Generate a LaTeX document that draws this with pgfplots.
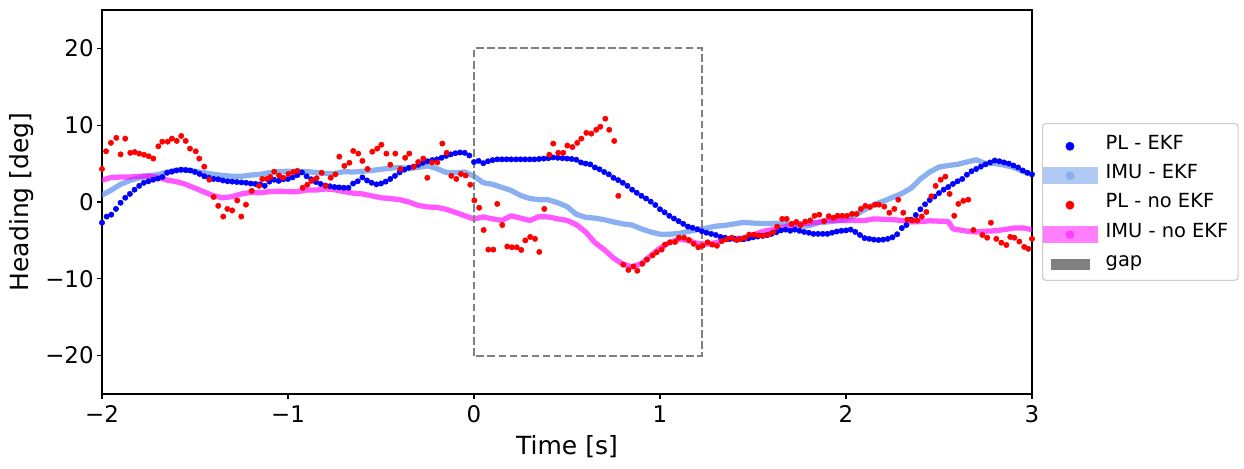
\documentclass[border=0pt]{standalone}
\usepackage{fontspec}
\setmainfont{DejaVu Sans}
\usepackage{pgfplots}
\usepackage{pgfplotstable}
\pgfplotsset{compat=1.18}
\definecolor{plblue}{RGB}{0,0,255}
\definecolor{imublue}{RGB}{100,149,237}
\definecolor{plred}{RGB}{255,0,0}
\definecolor{imumag}{RGB}{255,0,255}
\definecolor{gapgray}{RGB}{128,128,128}

\pgfplotstableread{
x y
-2.000 -2.7
-1.975 -1.9
-1.950 -1.65
-1.925 -0.9
-1.900 -0.1
-1.875 0.55
-1.850 1.05
-1.825 1.6
-1.800 2.1
-1.775 2.5
-1.750 2.7
-1.725 2.9
-1.700 3.05
-1.675 3.25
-1.650 3.8
-1.625 3.95
-1.600 4.1
-1.575 4.2
-1.550 4.15
-1.525 4.1
-1.500 3.9
-1.475 3.65
-1.450 3.35
-1.425 3.15
-1.400 3.0
-1.375 2.95
-1.350 2.8
-1.325 2.7
-1.300 2.65
-1.275 2.6
-1.250 2.55
-1.225 2.5
-1.200 2.4
-1.175 2.35
-1.150 2.3
-1.125 2.1
-1.100 2.65
-1.075 2.9
-1.050 2.75
-1.025 2.95
-1.000 3.0
-0.975 3.2
-0.950 3.5
-0.925 3.85
-0.900 3.35
-0.875 2.95
-0.850 2.6
-0.825 2.35
-0.800 2.15
-0.775 2.05
-0.750 1.95
-0.725 1.9
-0.700 1.85
-0.675 1.85
-0.650 2.4
-0.625 2.7
-0.600 3.2
-0.575 2.8
-0.550 2.5
-0.525 2.3
-0.500 2.4
-0.475 2.65
-0.450 3.0
-0.425 3.4
-0.400 3.85
-0.375 4.2
-0.350 4.45
-0.325 4.6
-0.300 4.85
-0.275 5.1
-0.250 5.3
-0.225 5.45
-0.200 5.55
-0.175 5.75
-0.150 6.0
-0.125 6.2
-0.100 6.35
-0.075 6.45
-0.050 6.4
-0.025 6.05
0.000 5.2
0.025 5.35
0.050 5.05
0.075 5.3
0.100 5.45
0.125 5.55
0.150 5.55
0.175 5.55
0.200 5.55
0.225 5.55
0.250 5.55
0.275 5.55
0.300 5.55
0.325 5.55
0.350 5.6
0.375 5.65
0.400 5.7
0.425 5.8
0.450 5.75
0.475 5.7
0.500 5.65
0.525 5.6
0.550 5.5
0.575 5.15
0.600 5.0
0.625 4.9
0.650 4.5
0.675 4.25
0.700 3.9
0.725 3.6
0.750 3.15
0.775 2.85
0.800 2.5
0.825 2.1
0.850 1.6
0.875 1.2
0.900 0.8
0.925 0.45
0.950 0.05
0.975 -0.4
1.000 -0.95
1.025 -1.35
1.050 -1.8
1.075 -2.15
1.100 -2.5
1.125 -2.85
1.150 -3.2
1.175 -3.35
1.200 -3.55
1.225 -3.8
1.250 -4.0
1.275 -4.15
1.300 -4.3
1.325 -4.55
1.350 -4.65
1.375 -4.8
1.400 -4.8
1.425 -4.85
1.450 -4.85
1.475 -4.75
1.500 -4.6
1.525 -4.5
1.550 -4.4
1.575 -4.3
1.600 -4.15
1.625 -3.95
1.650 -3.7
1.675 -3.6
1.700 -3.75
1.725 -3.6
1.750 -3.75
1.775 -3.9
1.800 -4.0
1.825 -4.15
1.850 -4.15
1.875 -4.15
1.900 -4.15
1.925 -4.0
1.950 -3.85
1.975 -3.75
2.000 -3.7
2.025 -3.6
2.050 -3.9
2.075 -4.3
2.100 -4.7
2.125 -4.8
2.150 -4.9
2.175 -4.95
2.200 -4.9
2.225 -4.8
2.250 -4.6
2.275 -4.2
2.300 -3.4
2.325 -3.0
2.350 -2.3
2.375 -1.7
2.400 -0.95
2.425 -0.3
2.450 0.25
2.475 0.7
2.500 1.15
2.525 1.6
2.550 1.95
2.575 2.35
2.600 2.7
2.625 3.0
2.650 3.55
2.675 4.0
2.700 4.3
2.725 4.6
2.750 4.9
2.775 5.15
2.800 5.4
2.825 5.3
2.850 5.15
2.875 5.0
2.900 4.75
2.925 4.5
2.950 4.1
2.975 3.8
3.000 3.6
}\plekf

\pgfplotstableread{
x y
-2.00 0.9
-1.95 1.55
-1.90 2.3
-1.85 2.8
-1.80 3.15
-1.75 3.4
-1.70 3.55
-1.65 3.9
-1.60 4.15
-1.55 4.2
-1.50 4.0
-1.45 3.8
-1.40 3.6
-1.35 3.45
-1.30 3.35
-1.25 3.35
-1.20 3.5
-1.15 3.6
-1.10 3.8
-1.05 3.95
-1.00 4.0
-0.95 3.95
-0.90 3.95
-0.85 3.85
-0.80 3.7
-0.75 3.7
-0.70 3.95
-0.65 3.9
-0.60 4.0
-0.55 4.1
-0.50 4.25
-0.45 4.4
-0.40 4.5
-0.35 4.35
-0.30 4.5
-0.25 4.7
-0.20 4.35
-0.15 3.85
-0.10 3.8
-0.05 3.9
0.00 3.35
0.05 2.5
0.10 2.3
0.15 1.9
0.20 1.5
0.25 0.85
0.30 0.45
0.35 0.3
0.40 0.28
0.45 -0.1
0.50 -0.6
0.55 -1.6
0.60 -2.0
0.65 -2.1
0.70 -2.3
0.75 -2.6
0.80 -2.85
0.85 -3.0
0.90 -3.5
0.95 -3.9
1.00 -4.2
1.05 -4.2
1.10 -4.1
1.15 -3.85
1.20 -3.6
1.25 -3.4
1.30 -3.15
1.35 -3.05
1.40 -2.85
1.45 -2.65
1.50 -2.75
1.55 -2.8
1.60 -2.8
1.65 -2.75
1.70 -2.9
1.75 -3.15
1.80 -3.1
1.85 -2.7
1.90 -2.6
1.95 -2.45
2.00 -2.3
2.05 -1.7
2.10 -1.0
2.15 -0.35
2.20 0.1
2.25 0.6
2.30 1.1
2.35 1.8
2.40 3.0
2.45 3.9
2.50 4.55
2.55 4.75
2.60 4.9
2.65 5.2
2.70 5.5
2.75 5.0
2.80 5.0
2.85 4.8
2.90 4.5
2.95 4.0
3.00 3.6
}\imuekf

\pgfplotstableread{
x y
-2.000 4.3
-1.978 6.6
-1.952 7.7
-1.923 8.35
-1.900 6.2
-1.875 8.25
-1.848 6.4
-1.824 6.5
-1.800 6.3
-1.774 6.15
-1.749 5.95
-1.724 5.65
-1.697 7.25
-1.676 7.85
-1.647 7.85
-1.624 8.25
-1.598 7.95
-1.574 8.6
-1.550 7.95
-1.527 6.95
-1.496 6.6
-1.477 5.65
-1.450 4.6
-1.423 2.9
-1.400 0.65
-1.375 -0.5
-1.348 -1.9
-1.326 -0.9
-1.300 -1.1
-1.273 0.2
-1.251 -1.9
-1.226 -0.35
-1.195 1.45
-1.156 2.1
-1.138 3.0
-1.114 3.0
-1.095 3.25
-1.074 3.95
-1.048 3.45
-1.025 3.15
-0.998 3.65
-0.972 3.9
-0.950 4.05
-0.921 1.85
-0.896 2.25
-0.873 2.75
-0.846 3.1
-0.819 3.8
-0.797 2.1
-0.770 3.15
-0.745 3.6
-0.724 5.9
-0.697 4.7
-0.670 5.1
-0.649 6.65
-0.622 6.3
-0.600 5.35
-0.572 4.3
-0.547 6.55
-0.520 6.95
-0.498 7.45
-0.471 6.3
-0.450 4.85
-0.423 6.3
-0.396 4.3
-0.370 5.75
-0.348 6.3
-0.323 4.6
-0.300 5.2
-0.273 5.65
-0.251 3.15
-0.226 5.15
-0.197 5.15
-0.170 7.6
-0.147 6.4
-0.122 3.4
-0.095 3.0
-0.070 3.65
-0.045 3.45
-0.020 2.25
0.002 0.2
0.028 -0.75
0.052 -3.65
0.077 -6.2
0.104 -6.2
0.125 -0.25
0.152 -3.0
0.179 -5.8
0.204 -5.9
0.230 -5.9
0.254 -6.25
0.276 -5.0
0.302 -4.55
0.328 -4.8
0.351 -6.5
0.378 -0.9
0.405 6.15
0.426 7.6
0.453 6.4
0.480 6.4
0.502 7.35
0.529 7.15
0.555 7.7
0.577 8.25
0.604 9.0
0.631 8.9
0.657 9.4
0.679 9.8
0.706 10.85
0.727 9.4
0.754 7.95
0.776 0.8
0.803 -8.15
0.830 -8.85
0.857 -8.4
0.878 -8.95
0.905 -8.05
0.930 -7.5
0.960 -6.95
0.982 -6.55
1.009 -6.2
1.027 -5.55
1.054 -5.25
1.081 -5.2
1.102 -4.65
1.129 -4.65
1.156 -4.95
1.181 -5.45
1.206 -5.9
1.229 -5.7
1.256 -5.25
1.281 -5.55
1.306 -5.7
1.332 -5.1
1.359 -4.85
1.386 -4.65
1.412 -4.95
1.434 -4.85
1.457 -4.65
1.480 -4.25
1.505 -4.25
1.530 -4.35
1.555 -4.4
1.582 -4.25
1.609 -3.95
1.630 -3.2
1.657 -2.2
1.681 -2.2
1.708 -2.85
1.733 -2.6
1.756 -3.0
1.781 -2.55
1.808 -2.4
1.831 -1.8
1.856 -1.65
1.882 -2.5
1.907 -1.85
1.932 -2.05
1.955 -1.8
1.980 -1.8
2.005 -1.8
2.032 -1.55
2.057 -1.55
2.080 -0.9
2.104 -0.5
2.129 -0.65
2.156 -0.35
2.177 -0.35
2.206 -0.6
2.233 -1.4
2.260 -0.9
2.281 0.3
2.308 -1.4
2.330 -2.3
2.357 -2.4
2.383 -2.4
2.407 -1.9
2.432 -1.3
2.459 0.75
2.482 2.1
2.509 2.9
2.534 3.3
2.557 1.05
2.582 -1.8
2.604 -0.25
2.631 0.15
2.657 0.3
2.685 -3.65
2.733 -4.3
2.759 -4.65
2.779 -2.7
2.808 -4.8
2.835 -5.3
2.862 -5.6
2.883 -4.55
2.905 -4.65
2.932 -5.15
2.958 -5.85
2.980 -6.1
3.000 -4.8
}\plnoekf

\pgfplotstableread{
x y
-2.00 2.85
-1.95 3.2
-1.90 3.25
-1.85 3.25
-1.80 3.35
-1.75 3.4
-1.70 3.2
-1.65 2.85
-1.60 2.65
-1.55 2.3
-1.50 1.8
-1.45 1.3
-1.40 0.8
-1.35 0.55
-1.30 0.7
-1.25 1.05
-1.20 1.25
-1.15 1.2
-1.10 1.35
-1.05 1.4
-1.00 1.35
-0.95 1.35
-0.90 1.55
-0.85 1.55
-0.80 1.7
-0.75 1.6
-0.70 1.35
-0.65 1.15
-0.60 1.05
-0.55 0.8
-0.50 0.55
-0.45 0.45
-0.40 0.3
-0.35 0.0
-0.30 -0.45
-0.25 -0.65
-0.20 -0.7
-0.15 -0.95
-0.10 -1.35
-0.05 -1.8
0.00 -2.2
0.05 -1.95
0.10 -2.2
0.15 -2.4
0.20 -1.8
0.25 -2.1
0.30 -2.4
0.35 -1.9
0.40 -1.95
0.45 -2.2
0.50 -2.4
0.55 -2.95
0.60 -3.9
0.65 -5.3
0.70 -6.2
0.75 -7.3
0.80 -8.1
0.85 -8.45
0.90 -8.0
0.95 -7.0
1.00 -6.0
1.05 -5.3
1.10 -4.85
1.15 -5.0
1.20 -5.4
1.25 -5.5
1.30 -5.3
1.35 -4.9
1.40 -4.75
1.45 -4.7
1.50 -4.3
1.55 -3.85
1.60 -3.6
1.65 -3.35
1.70 -3.06
1.75 -2.85
1.80 -2.76
1.85 -2.63
1.90 -2.4
1.95 -2.4
2.00 -2.41
2.05 -2.41
2.10 -2.41
2.15 -2.2
2.20 -2.25
2.25 -2.3
2.30 -2.4
2.35 -2.6
2.40 -2.55
2.45 -2.45
2.50 -2.5
2.55 -2.55
2.575 -3.5
2.60 -3.6
2.65 -3.8
2.70 -3.9
2.75 -3.8
2.80 -3.75
2.85 -3.6
2.90 -3.4
2.95 -3.37
3.00 -3.6
}\imunoekf

\begin{document}
\begin{tikzpicture}
\begin{axis}[
  scale only axis,
  width=669.6pt, height=276.5pt,
  xmin=-2, xmax=3, ymin=-25, ymax=25,
  xtick={-2,-1,0,1,2,3}, xticklabels={−2,−1,0,1,2,3},
  ytick={-20,-10,0,10,20}, yticklabels={−20,−10,0,10,20},
  tick align=outside, tick pos=left,
  major tick length=3.5pt,
  every tick/.style={black, line width=0.8pt},
  axis line style={line width=0.8pt},
  ticklabel style={font=\fontsize{16.5}{19.8}\selectfont},
  xticklabel style={yshift=-1.5pt},
  yticklabel style={xshift=1pt},
  xlabel={Time [s]}, ylabel={Heading [deg]},
  label style={font=\fontsize{18}{21.6}\selectfont},
  xlabel style={at={(axis description cs:0.5,-0.15625)}, anchor=base},
  ylabel style={at={(axis description cs:-0.079,0.5)}, anchor=base},
  legend cell align=left,
  legend style={at={(1.0108,0.5)}, anchor=west, draw=black!20, line width=0.8pt,
    rounded corners=2.5pt, fill=white, font=\fontsize{14}{16.8}\selectfont,
    inner xsep=7pt, inner ysep=5pt, row sep=3.2pt, column sep=0pt,
    nodes={inner sep=0pt, text height=13.3pt, text depth=4.7pt}},
]
\addplot[imublue, opacity=0.75, line width=3.8pt, line cap=round, line join=round, forget plot] table {\imuekf};
\addplot[imumag, opacity=0.65, line width=3.8pt, line cap=round, line join=round, forget plot] table {\imunoekf};
\addplot[plblue, only marks, mark=*, mark size=1.9pt, forget plot] table {\plekf};
\addplot[plred, only marks, mark=*, mark size=1.9pt, forget plot] table {\plnoekf};
\addplot[gapgray, line width=1.5pt, dash pattern=on 5.55pt off 2.4pt, forget plot] coordinates {(0,-20) (0,20) (1.225,20) (1.225,-20) (0,-20)};
\coordinate (sw) at (rel axis cs:0,0);

\addlegendimage{legend image code/.code={\path[draw=none, fill=none] (0,-4.3pt) rectangle (38.4pt,4.7pt); \fill[sharp corners, draw=none, plblue, overlay] (12.7pt,-2.3pt) circle (3.2pt);}}
\addlegendentry{PL - EKF}
\addlegendimage{legend image code/.code={\path[draw=none, fill=none] (0,-4.3pt) rectangle (38.4pt,4.7pt); \fill[sharp corners, draw=none, imublue, opacity=0.5, overlay] (-7pt,-8.4pt) rectangle (32.6pt,3.8pt); \fill[sharp corners, draw=none, imublue, opacity=0.5, overlay] (12.7pt,-2.3pt) circle (3.2pt);}}
\addlegendentry{IMU - EKF}
\addlegendimage{legend image code/.code={\path[draw=none, fill=none] (0,-4.3pt) rectangle (38.4pt,4.7pt); \fill[sharp corners, draw=none, plred, overlay] (12.7pt,-2.3pt) circle (3.2pt);}}
\addlegendentry{PL - no EKF}
\addlegendimage{legend image code/.code={\path[draw=none, fill=none] (0,-4.3pt) rectangle (38.4pt,4.7pt); \fill[sharp corners, draw=none, imumag, opacity=0.5, overlay] (-7pt,-8.4pt) rectangle (32.6pt,3.8pt); \fill[sharp corners, draw=none, imumag, opacity=0.5, overlay] (12.7pt,-2.3pt) circle (3.2pt);}}
\addlegendentry{IMU - no EKF}
\addlegendimage{legend image code/.code={\path[draw=none, fill=none] (0,-4.3pt) rectangle (38.4pt,4.7pt); \fill[sharp corners, draw=none, gapgray, overlay] (-0.7pt,-6.25pt) rectangle (27pt,1.65pt);}}
\addlegendentry{gap}
\end{axis}
\path (sw) ++(-73.44pt,-53.28pt) rectangle ++(895.68pt,336.96pt);
\end{tikzpicture}
\end{document}
